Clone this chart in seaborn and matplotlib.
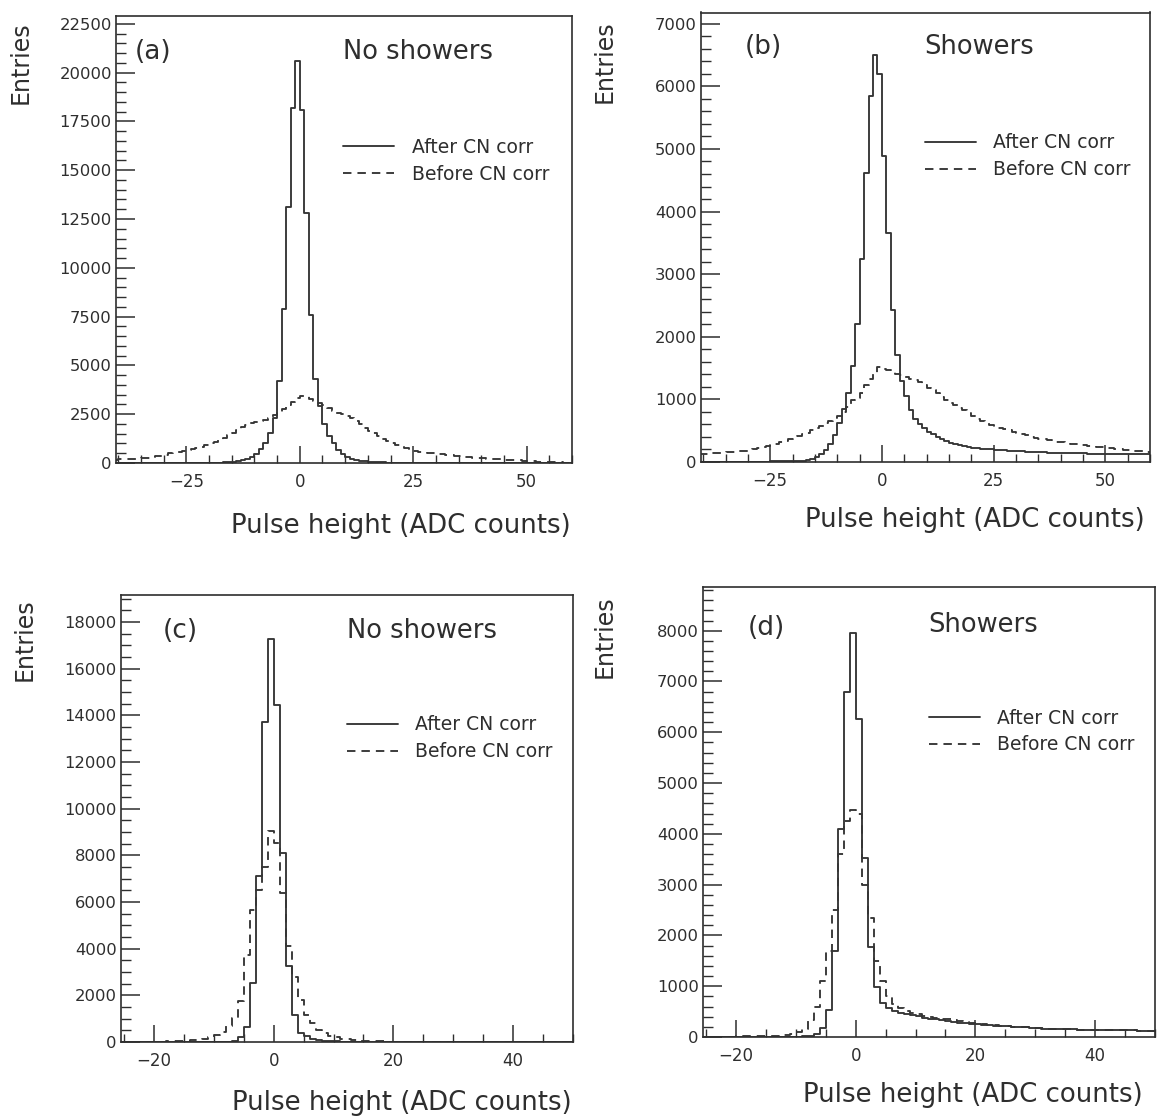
import numpy as np
import pandas as pd
import matplotlib
matplotlib.use("Agg")
import matplotlib.pyplot as plt
from matplotlib.ticker import MultipleLocator
import seaborn as sns

# ---------------- data (bin contents, 1 ADC-count bins) ----------------
# panels (a),(b): bins with left edges -41 ... 59
ab_first_edge = -41
ab_last_edge = 60
# panels (c),(d): bins with left edges -26 ... 49
cd_first_edge = -26
cd_last_edge = 50

a_after = [5, 5, 5, 5, 5, 5, 6, 6, 6, 7, 7, 8, 8, 9, 9, 10, 10, 10, 11, 11, 12,
           14, 18, 24, 32, 45, 65, 95, 140, 210, 310, 460, 700, 1050, 1550, 2300,
           4200, 7900, 13100, 18200, 20600,
           18100, 12800, 7600, 4300, 2900, 2000, 1400, 1000, 680, 450,
           320, 230, 160, 110, 80, 60, 46, 36, 29, 24,
           21, 19, 18, 17, 16, 15, 15, 14, 14, 13,
           13, 12, 12, 12, 11, 11, 11, 10, 10, 10,
           10, 9, 9, 9, 9, 8, 8, 8, 8, 8,
           7, 7, 7, 7, 6, 6, 6, 6, 5, 5]
a_before = [170, 180, 190, 200, 210, 230, 260, 280, 300, 340, 380, 420, 500, 540,
            580, 620, 660, 720, 780, 840, 920, 1000, 1080, 1180, 1300, 1420, 1530,
            1680, 1820, 1950, 2050, 2120, 2150, 2180, 2300, 2450, 2560, 2760, 2980,
            3150, 3320,
            3440, 3420, 3300, 3200, 3050, 2950, 2800, 2680, 2580, 2500,
            2420, 2300, 2150, 1980, 1800, 1650, 1520, 1380, 1250, 1130,
            1030, 940, 850, 760, 680, 620, 580, 550, 520, 500,
            470, 440, 420, 390, 360, 340, 320, 300, 280, 260,
            240, 220, 210, 200, 190, 170, 160, 140, 130, 120,
            110, 80, 70, 60, 50, 40, 35, 30, 25, 20]
b_after = [5, 5, 5, 5, 5, 5, 5, 5, 5, 5, 5, 5, 6, 6, 7, 7, 8, 8, 9, 10, 10, 11, 12,
           18, 28, 45, 75, 120, 190, 290, 430, 620, 850, 1100, 1530, 2200, 3240,
           4620, 5850, 6500, 6200,
           4890, 3660, 2430, 1710, 1300, 1050, 830, 680, 600, 540,
           480, 440, 400, 365, 335, 310, 290, 270, 255, 240,
           230, 222, 215, 208, 200, 195, 190, 185, 182, 178,
           175, 170, 166, 162, 158, 155, 152, 150, 148, 146,
           144, 142, 140, 139, 138, 136, 135, 134, 133, 132,
           131, 130, 129, 128, 127, 126, 125, 125, 124, 124]
b_before = [125, 128, 132, 136, 140, 146, 152, 158, 165, 172, 180, 192, 205, 220,
            240, 260, 280, 295, 315, 335, 360, 385, 410, 440, 470, 505, 540, 575,
            615, 655, 700, 740, 800, 880, 990, 1020, 1100, 1230, 1330, 1420, 1510,
            1480, 1470, 1440, 1410, 1390, 1360, 1330, 1310, 1270, 1230,
            1190, 1150, 1100, 1040, 990, 950, 910, 860, 830, 780,
            730, 690, 660, 620, 590, 566, 545, 525, 505, 486,
            465, 445, 425, 405, 390, 375, 360, 345, 335, 325,
            315, 305, 295, 285, 275, 265, 258, 250, 243, 236,
            228, 220, 212, 205, 198, 190, 183, 176, 170, 165]
c_after = [0, 0, 0, 0, 0, 0, 0, 0, 0, 0, 0, 0, 0, 0, 0, 0, 5, 10,
           15, 30, 200, 660, 2550, 7100, 13700, 17260,
           14450, 8100, 3240, 1160, 390, 250, 150, 90, 60, 40,
           30, 20, 15, 10, 8, 6, 5, 5, 4, 4,
           4, 3, 3, 3, 3, 3, 2, 2, 2, 2,
           2, 2, 2, 2, 2, 1, 1, 1, 1, 1,
           1, 1, 1, 1, 1, 1, 1, 1, 1, 1]
c_before = [10, 10, 12, 12, 14, 16, 18, 20, 22, 25, 35, 50, 70, 100, 150, 210,
            300, 450, 700, 1050, 1750, 3730, 5650, 6500, 7500, 9050,
            8550, 6400, 4100, 2800, 1800, 1150, 800, 520, 370, 260,
            200, 150, 110, 80, 60, 45, 35, 28, 22, 18,
            15, 14, 13, 12, 11, 10, 10, 9, 9, 8,
            8, 7, 7, 6, 6, 6, 5, 5, 5, 5,
            4, 4, 4, 4, 3, 3, 3, 3, 3, 3]
d_after = [0, 0, 0, 0, 0, 0, 0, 0, 0, 0, 0, 0, 2, 3, 4, 5, 7, 10,
           20, 50, 170, 530, 1700, 4090, 6790, 7950,
           6270, 3520, 1780, 990, 660, 565, 510, 480, 450, 430,
           410, 380, 360, 345, 330, 310, 295, 285, 272, 260,
           250, 240, 232, 225, 218, 210, 202, 195, 188, 180,
           170, 165, 160, 156, 153, 150, 148, 146, 144, 142,
           140, 138, 136, 134, 132, 130, 128, 126, 124, 122]
d_before = [5, 5, 6, 7, 8, 9, 10, 11, 12, 13, 14, 16, 18, 25, 35, 55, 90, 160,
            330, 600, 1100, 1700, 2500, 3600, 4250, 4470,
            4400, 3000, 2340, 1500, 1100, 800, 650, 580, 520, 480,
            450, 420, 400, 380, 360, 345, 330, 315, 300, 285,
            270, 258, 246, 235, 225, 215, 206, 198, 190, 182,
            174, 168, 162, 157, 153, 150, 148, 146, 144, 142,
            140, 138, 136, 134, 132, 130, 128, 126, 124, 122]

panel_tags = ["(a)", "(b)", "(c)", "(d)"]
panel_titles = ["No showers", "Showers", "No showers", "Showers"]
series_labels = ["After CN corr", "Before CN corr"]
x_label = "Pulse height (ADC counts)"
y_label = "Entries"

# ---------------- style ----------------
sns.set_style("white")
plt.rcParams["font.family"] = ["DejaVu Sans"]
INK = "#2e2e2e"
LINE = "#353535"

W, H = 1159, 1119
fig = plt.figure(figsize=(W / 100, H / 100), dpi=100)

def px_axes(l, t, r, b):
    return [l / W, 1 - b / H, (r - l) / W, (b - t) / H]

layout = [
    dict(box=(116, 16, 572, 463), edges=(ab_first_edge, ab_last_edge), xlim=(-40.5, 60),
         ylim=22900, ymaj=2500, ymin=500, xmaj=25, data=(a_after, a_before),
         tag=(0.042, 0.919), title=(0.498, 0.919), leg=(0.498, 0.727),
         ylab=(-0.183, 0.987), xlab=(0.997, -0.112)),
    dict(box=(701, 12.5, 1150, 462), edges=(ab_first_edge, ab_last_edge), xlim=(-40.5, 60),
         ylim=7180, ymaj=1000, ymin=200, xmaj=25, data=(b_after, b_before),
         tag=(0.098, 0.923), title=(0.497, 0.923), leg=(0.499, 0.731),
         ylab=(-0.187, 0.983), xlab=(0.989, -0.100)),
    dict(box=(121, 595, 573, 1042), edges=(cd_first_edge, cd_last_edge), xlim=(-25.5, 50),
         ylim=19160, ymaj=2000, ymin=500, xmaj=20, data=(c_after, c_before),
         tag=(0.093, 0.919), title=(0.50, 0.919), leg=(0.50, 0.731),
         ylab=(-0.186, 0.993), xlab=(0.998, -0.108)),
    dict(box=(703, 587, 1155, 1037), edges=(cd_first_edge, cd_last_edge), xlim=(-25.5, 50),
         ylim=8860, ymaj=1000, ymin=200, xmaj=20, data=(d_after, d_before),
         tag=(0.10, 0.909), title=(0.498, 0.915), leg=(0.50, 0.730),
         ylab=(-0.19, 0.982), xlab=(0.973, -0.100)),
]

for i, p in enumerate(layout):
    ax = fig.add_axes(px_axes(*p["box"]))
    lo, hi = p["edges"]
    centers = np.arange(lo, hi) + 0.5
    for vals, lab, ls in zip(p["data"], series_labels, ["-", (0, (4.5, 3.2))]):
        df = pd.DataFrame({"x": centers, "w": vals})
        sns.histplot(data=df, x="x", weights="w", binwidth=1, binrange=(lo, hi),
                     element="step", fill=False, color=LINE, linewidth=1.35,
                     linestyle=ls, ax=ax, label=lab)
    ax.set_xlim(*p["xlim"])
    ax.set_ylim(0, p["ylim"])

    ax.xaxis.set_major_locator(MultipleLocator(p["xmaj"]))
    ax.xaxis.set_minor_locator(MultipleLocator(5))
    ax.yaxis.set_major_locator(MultipleLocator(p["ymaj"]))
    ax.yaxis.set_minor_locator(MultipleLocator(p["ymin"]))
    ax.tick_params(axis="y", which="major", direction="in", length=14, width=1.1,
                   pad=3, labelsize=11.8, colors=INK, right=False, left=True)
    ax.tick_params(axis="y", which="minor", direction="in", length=7, width=1.0,
                   right=False, left=True, colors=INK)
    ax.tick_params(axis="x", which="major", direction="in", length=12, width=1.1,
                   pad=7, labelsize=12, colors=INK, top=False, bottom=True)
    ax.tick_params(axis="x", which="minor", direction="in", length=6, width=1.0,
                   top=False, bottom=True, colors=INK)
    for sp in ax.spines.values():
        sp.set_linewidth(1.2)
        sp.set_color(INK)

    ax.set_ylabel(y_label, loc="top", fontsize=17, color=INK)
    ax.yaxis.set_label_coords(*p["ylab"])
    ax.set_xlabel(x_label, loc="right", fontsize=18.7, color=INK)
    ax.xaxis.set_label_coords(*p["xlab"])

    ax.text(*p["tag"], panel_tags[i], transform=ax.transAxes, fontsize=19,
            va="center", ha="left", color=INK)
    ax.text(*p["title"], panel_titles[i], transform=ax.transAxes, fontsize=18.5,
            va="center", ha="left", color=INK)

    ax.legend(loc="upper left", bbox_to_anchor=p["leg"], frameon=False,
              fontsize=13.5, handlelength=2.7, handletextpad=0.95,
              labelspacing=0.42, borderpad=0, borderaxespad=0, labelcolor=INK)

fig.savefig("out.png", dpi=100, facecolor="white")
